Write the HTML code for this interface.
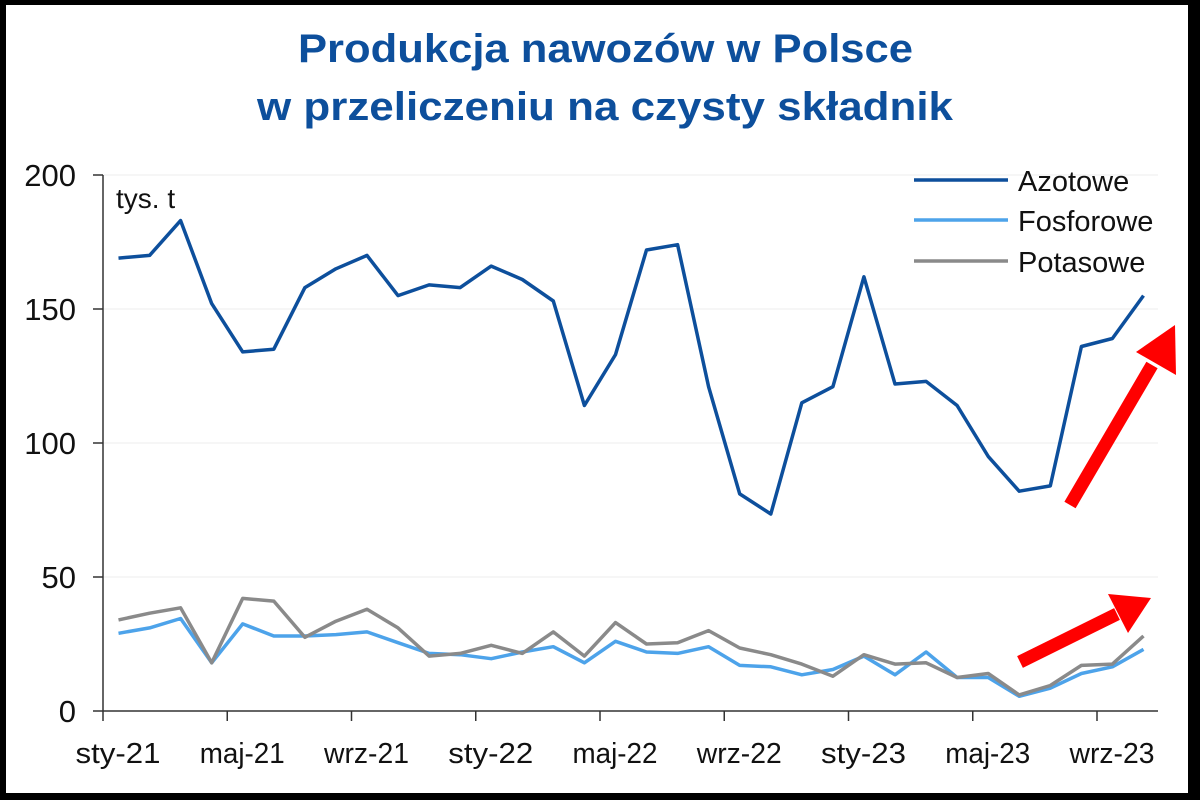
<!DOCTYPE html>
<html><head><meta charset="utf-8"><style>
html,body{margin:0;padding:0;background:#000;}
#c{position:absolute;left:6px;top:5px;width:1182px;height:788px;background:#fff;}
svg{position:absolute;left:0;top:0;}
text{font-family:"Liberation Sans",sans-serif;}
</style></head><body>
<div id="c"></div>
<svg id="s" width="1200" height="800" xmlns="http://www.w3.org/2000/svg">
<text x="298" y="62" font-size="40" font-weight="bold" fill="#0d4f9c" textLength="615" lengthAdjust="spacingAndGlyphs">Produkcja nawozów w Polsce</text>
<text x="257" y="120" font-size="40" font-weight="bold" fill="#0d4f9c" textLength="696" lengthAdjust="spacingAndGlyphs">w przeliczeniu na czysty składnik</text>
<g stroke="#eeeeee" stroke-width="1">
<line x1="103" y1="175" x2="1158" y2="175"/><line x1="103" y1="309" x2="1158" y2="309"/>
<line x1="103" y1="443" x2="1158" y2="443"/><line x1="103" y1="577" x2="1158" y2="577"/>
</g>
<g stroke="#333" stroke-width="1.5" fill="none" id="axes">
<line x1="103" y1="175" x2="103" y2="711"/><line x1="93" y1="711" x2="1158" y2="711"/>
<line x1="93" y1="175" x2="103" y2="175"/><line x1="93" y1="309" x2="103" y2="309"/>
<line x1="93" y1="443" x2="103" y2="443"/><line x1="93" y1="577" x2="103" y2="577"/>
</g>
<g font-size="31" fill="#111" text-anchor="end">
<text x="76" y="186">200</text><text x="76" y="320">150</text><text x="76" y="454">100</text>
<text x="76" y="588">50</text><text x="76" y="722">0</text>
</g>
<text x="116" y="208" font-size="28" fill="#111">tys. t</text>
<g font-size="29" fill="#111" text-anchor="middle" id="xl"></g>
<g id="lines"></g>
<g font-size="29" fill="#111">
<line x1="914" y1="180" x2="1008" y2="180" stroke="#0d4f9c" stroke-width="3.5"/>
<text x="1018" y="191">Azotowe</text>
<line x1="914" y1="220" x2="1008" y2="220" stroke="#4da3ea" stroke-width="3.5"/>
<text x="1018" y="231">Fosforowe</text>
<line x1="914" y1="261" x2="1008" y2="261" stroke="#8a8a8a" stroke-width="3.5"/>
<text x="1018" y="272">Potasowe</text>
</g>
<g fill="#ff0000" stroke="none">
<line x1="1070" y1="505" x2="1152" y2="365" stroke="#ff0000" stroke-width="13"/>
<polygon points="1175,325 1176,375 1136,352"/>
<line x1="1020" y1="662" x2="1117" y2="614" stroke="#ff0000" stroke-width="13"/>
<polygon points="1151,598 1128,633 1108,594"/>
</g>
</svg>
<script>
var A=[169,170,183,152,134,135,158,165,170,155,159,158,166,161,153,114,133,172,174,121,81,73.5,115,121,162,122,123,114,95,82,84,136,139,155];
var F=[29,31,34.5,18,32.5,28,28,28.5,29.5,25.5,21.5,21,19.5,22,24,18,26,22,21.5,24,17,16.5,13.5,15.5,20.5,13.5,22,12.5,12.5,5.5,8.5,14,16.5,23];
var P=[34,36.5,38.5,18,42,41,27.5,33.5,38,31,20.5,21.5,24.5,21.5,29.5,20.5,33,25,25.5,30,23.5,21,17.5,13,21,17.5,18,12.5,14,6,9.5,17,17.5,28];
function pts(d){return d.map(function(v,i){return (118.5+31.06*i).toFixed(1)+","+(711-2.68*v).toFixed(1)}).join(" ");}
var g=document.getElementById("lines"),h="";
h+='<polyline fill="none" stroke="#4da3ea" stroke-width="3.5" stroke-linejoin="round" points="'+pts(F)+'"/>';
h+='<polyline fill="none" stroke="#8a8a8a" stroke-width="3.5" stroke-linejoin="round" points="'+pts(P)+'"/>';
h+='<polyline fill="none" stroke="#0d4f9c" stroke-width="3.5" stroke-linejoin="round" points="'+pts(A)+'"/>';
g.innerHTML=h;
var L=["sty-21","maj-21","wrz-21","sty-22","maj-22","wrz-22","sty-23","maj-23","wrz-23"],x="",ax="";
for(var i=0;i<9;i++){var t=103+124.25*i;ax+='<line x1="'+t+'" y1="711" x2="'+t+'" y2="721"/>';x+='<text x="'+(t+15)+'" y="763" textLength="85" lengthAdjust="spacingAndGlyphs">'+L[i]+'</text>';}
document.getElementById("xl").innerHTML=x;
document.getElementById("axes").innerHTML+=ax;
</script>
</body></html>
